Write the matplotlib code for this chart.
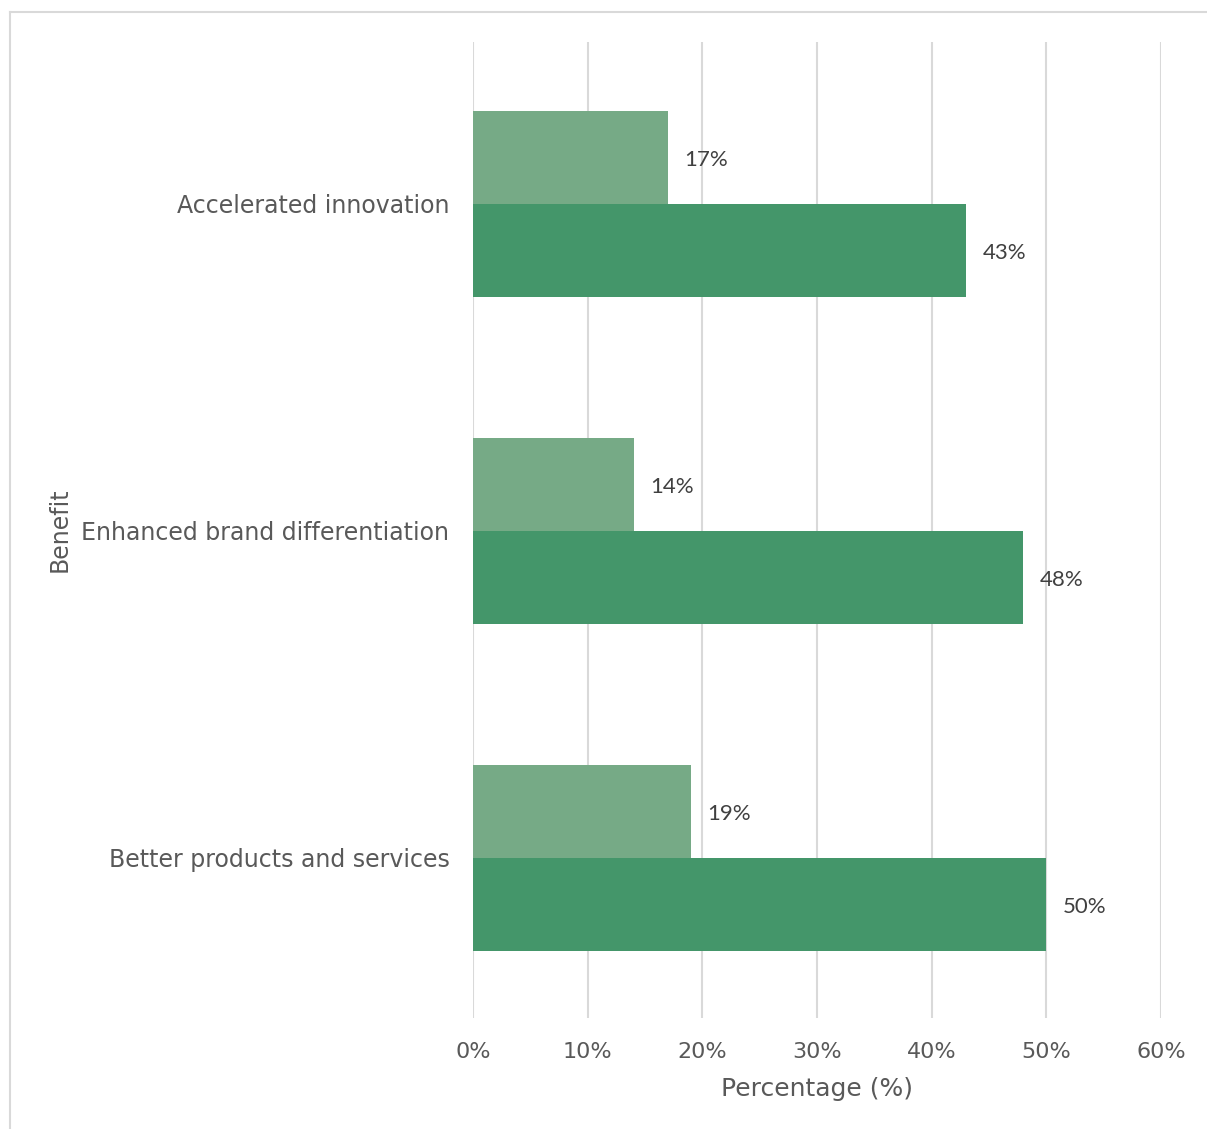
import numpy as np
import matplotlib.pyplot as plt
from matplotlib.lines import Line2D

plt.rcParams['font.family'] = ['DejaVu Sans']

benefits = ["Better products and services", "Enhanced brand differentiation", "Accelerated innovation"]
share_light = [19, 14, 17]
share_dark = [50, 48, 43]
xticks = [0, 10, 20, 30, 40, 50, 60]

light_green = "#76aa86"
dark_green = "#44966a"
text_grey = "#595959"

fig = plt.figure(figsize=(12.07, 11.29), dpi=100)
ax = fig.add_axes([473 / 1207, 1 - 1018 / 1129, 688 / 1207, (1018 - 42) / 1129])

# outer frame of the chart area (top and left edges only are visible)
fx, fy = 10 / 1207, 1 - 12 / 1129
fig.lines.append(Line2D([fx, 1.0], [fy, fy], transform=fig.transFigure,
                        color="#d9d9d9", linewidth=1.5))
fig.lines.append(Line2D([fx, fx], [0.0, fy], transform=fig.transFigure,
                        color="#d9d9d9", linewidth=1.5))

y = np.arange(len(benefits))
h = 0.285
ax.barh(y + h / 2, share_light, height=h, color=light_green, zorder=3)
ax.barh(y - h / 2, share_dark, height=h, color=dark_green, zorder=3)

for yi, v in zip(y, share_light):
    ax.annotate(f"{v}%", (v, yi + h / 2), xytext=(12, -2), textcoords="offset points",
                va="center", ha="left", fontsize=16, color="#404040", family="Lato")
for yi, v in zip(y, share_dark):
    ax.annotate(f"{v}%", (v, yi - h / 2), xytext=(12, -2), textcoords="offset points",
                va="center", ha="left", fontsize=16, color="#404040", family="Lato")

ax.set_xlim(0, 60)
ax.set_ylim(-0.49, 2.495)
ax.set_xticks(xticks)
ax.set_xticklabels([f"{t}%" for t in xticks])
ax.set_yticks(y)
ax.set_yticklabels(benefits)
ax.tick_params(axis="x", length=0, labelsize=16, colors=text_grey, pad=17)
ax.tick_params(axis="y", length=0, labelsize=17, colors=text_grey, pad=17)

ax.grid(axis="x", color="#d9d9d9", linewidth=1.5, zorder=0)
ax.set_axisbelow(True)
for s in ax.spines.values():
    s.set_visible(False)

ax.set_xlabel("Percentage (%)", fontsize=18, color=text_grey, labelpad=11)
fig.text(60 / 1207, 1 - 530 / 1129, "Benefit", rotation=90, fontsize=17,
         color=text_grey, ha="center", va="center")

fig.savefig("out.png", dpi=100)
